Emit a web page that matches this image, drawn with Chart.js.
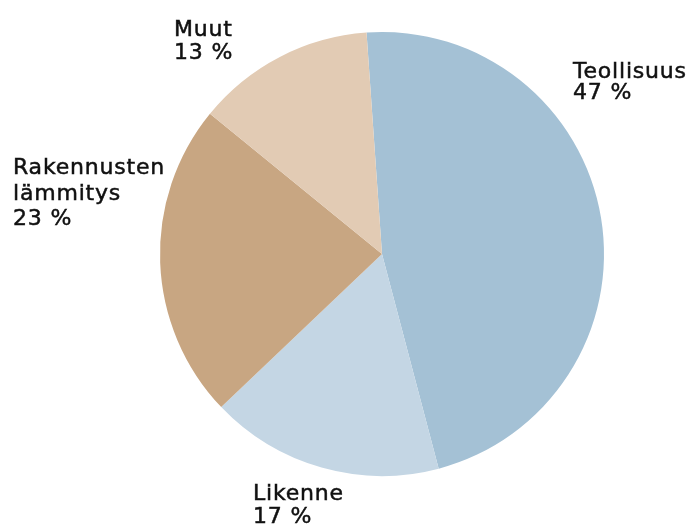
<!DOCTYPE html>
<html lang="fi">
<head>
  <meta charset="UTF-8">
  <title>Energian loppukäyttö</title>
  <script src="https://cdn.jsdelivr.net/npm/chart.js"></script>
  <style>
    html, body { margin: 0; padding: 0; background: #fff; }
    #kaavio { position: relative; width: 688px; height: 527px; }
  </style>
</head>
<body>
  <div id="kaavio">
    <canvas id="piirakka"></canvas>
  </div>

<script>
  // Sektorit ja osuudet (%)
  const sektorit = ['Teollisuus', 'Likenne', 'Rakennusten lämmitys', 'Muut'];
  const osuudet = [47, 17, 23, 13];
  const varit = ['#a4c1d5', '#c4d6e4', '#c8a682', '#e2cbb4'];

  // Tekstirivit ja kohdat jokaiselle sektorille
  const rivit = [
    ['Teollisuus'],
    ['Likenne'],
    ['Rakennusten', 'lämmitys'],
    ['Muut']
  ];
  const paikat = [
    { x: 573, y: 78, vali: 21 },
    { x: 253, y: 500, vali: 23 },
    { x: 13, y: 174, vali: 25.5 },
    { x: 174, y: 36, vali: 23 }
  ];

  // Piirtää nimet ja prosentit kuvion ulkopuolelle
  const nimiLaput = {
    id: 'nimiLaput',
    afterDraw(chart) {
      const ctx = chart.ctx;
      ctx.save();
      ctx.font = '22px "DejaVu Sans"';
      ctx.letterSpacing = '0.8px';
      ctx.fillStyle = '#111';
      ctx.strokeStyle = '#111';
      ctx.lineWidth = 0.5;
      ctx.textAlign = 'left';
      ctx.textBaseline = 'alphabetic';
      chart.data.datasets[0].data.forEach((arvo, i) => {
        const p = paikat[i];
        const tekstit = rivit[i].concat([arvo + ' %']);
        tekstit.forEach((t, j) => {
          ctx.fillText(t, p.x, p.y + j * p.vali);
          ctx.strokeText(t, p.x, p.y + j * p.vali);
        });
      });
      ctx.restore();
    }
  };

  const config = {
    type: 'pie',
    data: {
      labels: sektorit,
      datasets: [{
        data: osuudet,
        backgroundColor: varit,
        borderWidth: 0
      }]
    },
    options: {
      responsive: true,
      maintainAspectRatio: false,
      animation: false,
      rotation: -4,
      layout: {
        padding: { left: 160, right: 84, top: 32, bottom: 51 }
      },
      plugins: {
        legend: { display: false },
        tooltip: { enabled: false }
      }
    },
    plugins: [nimiLaput]
  };

  new Chart(document.getElementById('piirakka'), config);
</script>
</body>
</html>
